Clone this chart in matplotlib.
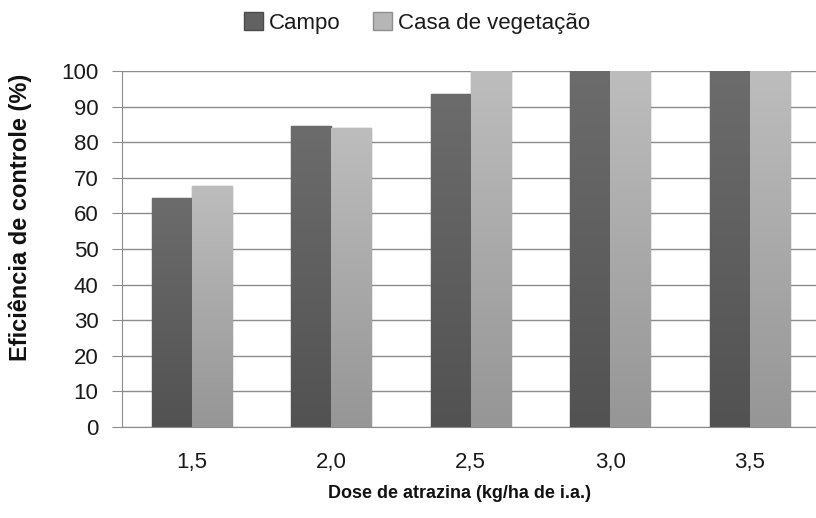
import numpy as np
import matplotlib.pyplot as plt
from matplotlib.colors import LinearSegmentedColormap

# data
doses = ["1,5", "2,0", "2,5", "3,0", "3,5"]
campo = [64.3, 84.5, 93.5, 100, 100]
casa = [67.7, 84.0, 100, 100, 100]

plt.rcParams["font.family"] = ["Liberation Sans", "DejaVu Sans"]

fig = plt.figure(figsize=(8.16, 5.18), dpi=100)
# plot area runs past the right edge, as in the (cropped) reference
ax = fig.add_axes([122 / 816, 1 - 427 / 518, 697.5 / 816, 356 / 518])

x = np.arange(len(doses))
w = 0.287
b1 = ax.bar(x - w / 2, campo, w, color="#626262", edgecolor="#4a4a4a", linewidth=1.0,
            label="Campo", zorder=3)
b2 = ax.bar(x + w / 2, casa, w, color="#b6b6b6", edgecolor="#8e8e8e", linewidth=1.0,
            label="Casa de vegetação", zorder=3)

# vertical gradient inside each bar (lighter at the top)
grad = np.linspace(1, 0, 256).reshape(-1, 1)
for bars, top, bot in [(b1, "#6c6c6c", "#525252"), (b2, "#bdbdbd", "#969696")]:
    cmap = LinearSegmentedColormap.from_list("g", [bot, top])
    for r in bars:
        x0, y0 = r.get_x(), r.get_y()
        im = ax.imshow(grad, cmap=cmap, vmin=0, vmax=1, aspect="auto",
                       extent=[x0, x0 + r.get_width(), y0, y0 + r.get_height()],
                       zorder=3.5, interpolation="bicubic")
        im.set_clip_path(r)

ax.set_xlim(-0.5, 4.5)
ax.set_ylim(0, 100)
ax.set_yticks(range(0, 101, 10))
ax.set_xticks(x)
ax.set_xticklabels(doses)
ax.tick_params(axis="y", labelsize=16, length=7, color="#8c8c8c", pad=10,
               labelcolor="#1a1a1a")
ax.tick_params(axis="x", labelsize=16, length=0, pad=18, labelcolor="#1a1a1a")
ax.yaxis.grid(True, color="#8c8c8c", linewidth=1, zorder=0)
for s in ["top", "right"]:
    ax.spines[s].set_visible(False)
ax.spines["left"].set_color("#8c8c8c")
ax.spines["bottom"].set_color("#8c8c8c")

fig.text(20.5 / 816, 1 - 217.5 / 518, "Eficiência de controle (%)", rotation=90,
         ha="center", va="center", fontsize=17, fontweight="bold", color="#111111")
fig.text(460 / 816, 1 - 493 / 518, "Dose de atrazina (kg/ha de i.a.)",
         ha="center", va="center", fontsize=13, fontweight="bold", color="#111111")

ax.legend(loc="center", bbox_to_anchor=(417 / 816, 1 - 23 / 518),
          bbox_transform=fig.transFigure, ncol=2, frameon=False,
          fontsize=16, handlelength=0.85, handleheight=0.85, handletextpad=0.25,
          columnspacing=1.5, borderpad=0, labelcolor="#1a1a1a")

fig.savefig("out.png", dpi=100)
